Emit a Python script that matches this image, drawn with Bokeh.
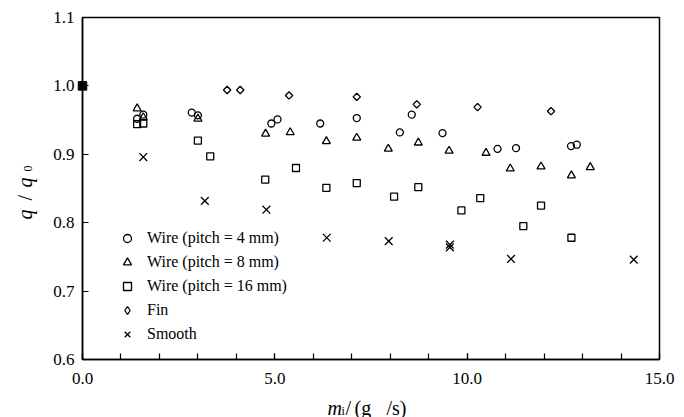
import numpy as np
from bokeh.plotting import figure
from bokeh.models import (Range1d, FixedTicker, NumeralTickFormatter,
                          Legend, LegendItem)
from bokeh.core.properties import value
from bokeh.embed import file_html
from bokeh.resources import INLINE

# ---- data: mass flow m_i (g/s) and heat transfer ratio q/q0 ----
wire4_m = [1.42, 1.58, 2.84, 3.00, 4.91, 5.07, 6.18, 7.13, 8.25, 8.56, 9.36, 10.79, 11.27, 12.70, 12.85]
wire4_q = [0.952, 0.958, 0.961, 0.957, 0.945, 0.951, 0.945, 0.953, 0.932, 0.958, 0.931, 0.908, 0.909, 0.912, 0.914]

wire8_m = [1.42, 1.58, 3.00, 4.76, 5.40, 6.34, 7.13, 7.95, 8.73, 9.53, 10.49, 11.12, 11.92, 12.71, 13.20]
wire8_q = [0.967, 0.954, 0.952, 0.930, 0.932, 0.919, 0.924, 0.908, 0.917, 0.905, 0.902, 0.879, 0.882, 0.869, 0.881]

wire16_m = [1.42, 1.58, 3.00, 3.32, 4.75, 5.55, 6.34, 7.13, 8.10, 8.73, 9.85, 10.34, 11.46, 11.92, 12.71]
wire16_q = [0.944, 0.945, 0.920, 0.897, 0.863, 0.880, 0.851, 0.858, 0.838, 0.852, 0.818, 0.836, 0.795, 0.825, 0.778]

fin_m = [3.76, 4.10, 5.37, 7.13, 8.69, 10.27, 12.18]
fin_q = [0.994, 0.994, 0.986, 0.984, 0.973, 0.969, 0.963]

smooth_m = [1.58, 3.18, 4.78, 6.35, 7.96, 9.55, 9.55, 11.14, 14.33]
smooth_q = [0.896, 0.832, 0.819, 0.778, 0.773, 0.768, 0.764, 0.747, 0.746]

ref_m = [0.0]
ref_q = [1.0]

x_ticks = [0, 5, 10, 15]
y_ticks = [0.6, 0.7, 0.8, 0.9, 1.0, 1.1]

# ---- layout ----
W, H = 684, 417
FL, FR, FT, FB = 82, 25, 17, 58          # borders around the frame
FW, FH = W - FL - FR, H - FT - FB
X0, X1, Y0, Y1 = 0.0, 15.0, 0.6, 1.1

SERIF = "Liberation Serif"

p = figure(width=W, height=H, output_backend="svg", toolbar_location=None,
           x_range=Range1d(X0, X1), y_range=Range1d(Y0, Y1),
           min_border_left=FL, min_border_right=FR,
           min_border_top=FT, min_border_bottom=FB,
           background_fill_color="white", border_fill_color="white")
p.grid.visible = False
p.outline_line_color = "black"
p.outline_line_width = 1.5

for ax in (p.xaxis[0], p.yaxis[0]):
    ax.axis_line_color = "black"
    ax.axis_line_width = 1.5
    ax.major_tick_line_color = "black"
    ax.major_tick_line_width = 1.2
    ax.minor_tick_line_color = "black"
    ax.minor_tick_line_width = 1.2
    ax.major_tick_in = 6
    ax.major_tick_out = 0
    ax.minor_tick_in = 6
    ax.minor_tick_out = 0
    ax.major_label_text_font = SERIF
    ax.major_label_text_font_size = "17px"
    ax.major_label_text_color = "black"
    ax.formatter = NumeralTickFormatter(format="0.0")

p.xaxis[0].ticker = FixedTicker(ticks=x_ticks, minor_ticks=list(range(0, 16)))
p.yaxis[0].ticker = FixedTicker(ticks=y_ticks, minor_ticks=[])
p.xaxis[0].major_label_standoff = 13
p.yaxis[0].major_label_standoff = 8

# ---- markers ----
common = dict(line_color="black", fill_color=None, line_width=1.3)
r4 = p.scatter(wire4_m, wire4_q, marker="circle", size=7, **common)
r8 = p.scatter(wire8_m, wire8_q, marker="triangle", size=8, **common)
r16 = p.scatter(wire16_m, wire16_q, marker="square", size=7, **common)
# fin points: squares turned 45 degrees give an even-sided diamond
rfin = p.scatter(fin_m, fin_q, marker="square", angle=np.pi / 4, size=5.2, **common)
# legend swatch for the fin series (legend markers are drawn unrotated);
# its single point has no position, so only the legend shows it
rfin_key = p.scatter([np.nan], [np.nan], marker="diamond", size=8, **common)
rsm = p.scatter(smooth_m, smooth_q, marker="x", size=11, line_color="black", line_width=1.3)
rref = p.scatter(ref_m, ref_q, marker="square", size=8.5, line_color="black",
                 fill_color="black", line_width=1)
rref.level = "overlay"

legend = Legend(items=[
    LegendItem(label="Wire (pitch = 4 mm)", renderers=[r4]),
    LegendItem(label="Wire (pitch = 8 mm)", renderers=[r8]),
    LegendItem(label="Wire (pitch = 16 mm)", renderers=[r16]),
    LegendItem(label="Fin", renderers=[rfin_key]),
    LegendItem(label="Smooth", renderers=[rsm]),
], location=(35, 15))
legend.border_line_color = None
legend.background_fill_alpha = 0
legend.glyph_width = 20
legend.glyph_height = 20
legend.label_height = 20
legend.spacing = 4
legend.padding = 0
legend.margin = 0
legend.label_standoff = 10
legend.label_text_font = SERIF
legend.label_text_font_size = "16px"
legend.label_text_color = "black"
p.add_layout(legend)


# ---- axis titles built from pieces (italic symbols with subscripts) ----
def dx(px):
    return X0 + (px - FL) * (X1 - X0) / FW


def dy(py):
    return Y1 - (py - FT) * (Y1 - Y0) / FH


def piece(text, px, py, size, italic=False, angle=0.0):
    r = p.text(x=[dx(px)], y=[dy(py)], text=[text], angle=angle,
               text_font=value(SERIF), text_font_size=value(size),
               text_font_style="italic" if italic else "normal",
               text_color="black", text_align="left",
               text_baseline="alphabetic")
    r.level = "overlay"


# x title: m_i / (g/s)
piece("m", 327, 407, "20px", italic=True)
piece("i", 341, 410, "12px")
piece("/", 345, 407, "20px")
piece("(g", 354, 407, "20px")
piece("/s)", 386, 407, "20px")

# y title: q / q_0 (rotated)
up = np.pi / 2
piece("q", 24, 219, "20px", italic=True, angle=up)
piece("/", 24, 200, "20px", angle=up)
piece("q", 24, 187, "20px", italic=True, angle=up)
piece("0", 27, 171, "12px", angle=up)

open("out.html", "w").write(file_html(p, INLINE))
